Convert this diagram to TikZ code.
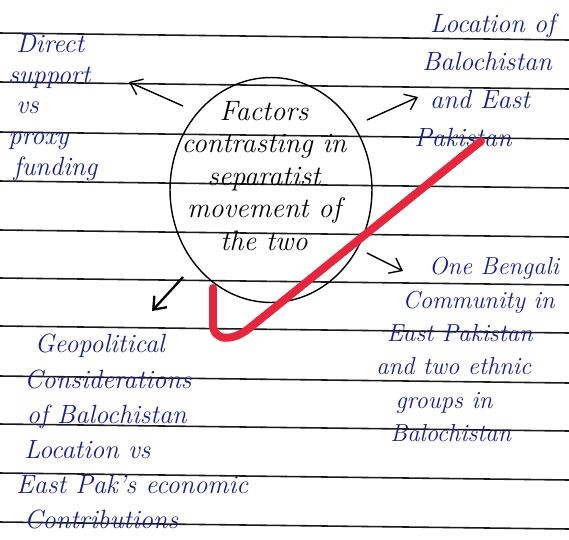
\documentclass[tikz,border=0pt]{standalone}
\usetikzlibrary{arrows.meta,shapes.geometric}
\definecolor{ink}{RGB}{22,30,140}
\definecolor{tick}{RGB}{230,38,60}
\tikzset{
        rule/.style={gray!20!black, line width=0.9pt},
        hand/.style={ink, align=left, font=\fontsize{15}{20}\selectfont\itshape, inner sep=0pt},
        arr/.style={thick, -{Straight Barb[length=2.2mm,width=3.4mm]}},
}
\begin{document}
    \begin{tikzpicture}[x=0.02cm,y=-0.02cm]
        \useasboundingbox (0,0) rectangle (569,539);
        % ruled paper
        \foreach \y in {33,82,132,181,230,278,326,376,424,473,522}
                \draw [rule] (0,\y) -- (569,\y+7);
        % centre
        \node [draw, thick, ellipse, minimum width=4.04cm, minimum height=4.5cm] (hub) at (271,190) {};
        \node [align=center, font=\fontsize{16}{18.5}\selectfont\itshape] (hubtext) at (264,176)
               {Factors\\contrasting in\\separatist\\movement of\\the two};
        % branches
        \node [hand, anchor=north west, font=\fontsize{15}{17.5}\selectfont\itshape] (direct) at (8,34)
               {\hspace*{0.3em}Direct\\support\\\hspace*{0.3em}vs\\proxy\\\hspace*{0.2em}funding};
        \node [hand, anchor=north west, font=\fontsize{15}{21.5}\selectfont\itshape] (location) at (414,14)
               {\hspace*{0.6em}Location of\\\hspace*{0.3em}Balochistan\\\hspace*{0.6em}and East\\Pakistan};
        \node [hand, anchor=north west, font=\fontsize{14}{19}\selectfont\itshape] (bengali) at (376,257)
               {\hspace*{30pt}One Bengali\\\hspace*{15pt}Community in\\\hspace*{6pt}East Pakistan\\and two ethnic\\\hspace*{11pt}groups in\\\hspace*{8pt}Balochistan};
        \node [hand, anchor=north west, font=\fontsize{15}{20}\selectfont\itshape] (geo) at (16,334)
               {\hspace*{0.7em}Geopolitical\\\hspace*{0.3em}Considerations\\\hspace*{0.4em}of Balochistan\\\hspace*{0.3em}Location vs\\East Pak's economic\\\hspace*{0.3em}Contributions};
        % arrow ends
        \coordinate (d1) at (183,106);
        \coordinate (d2) at (129,82);
        \coordinate (l1) at (367,120);
        \coordinate (l2) at (418,97);
        \coordinate (b1) at (367,253);
        \coordinate (b2) at (403,271);
        \coordinate (g1) at (183,277);
        \coordinate (g2) at (152,311);
        \draw [arr] (d1) -- (d2);
        \draw [arr] (l1) -- (l2);
        \draw [arr] (b1) -- (b2);
        \draw [arr, line width=1.3pt] (g1) -- (g2);
        % red tick
        \draw [tick, line width=0.16cm, line cap=round, line join=round]
              (213,288) -- (213,324) .. controls (213,342) and (234,342) .. (252,326) -- (481,141);
    \end{tikzpicture}
\end{document}
